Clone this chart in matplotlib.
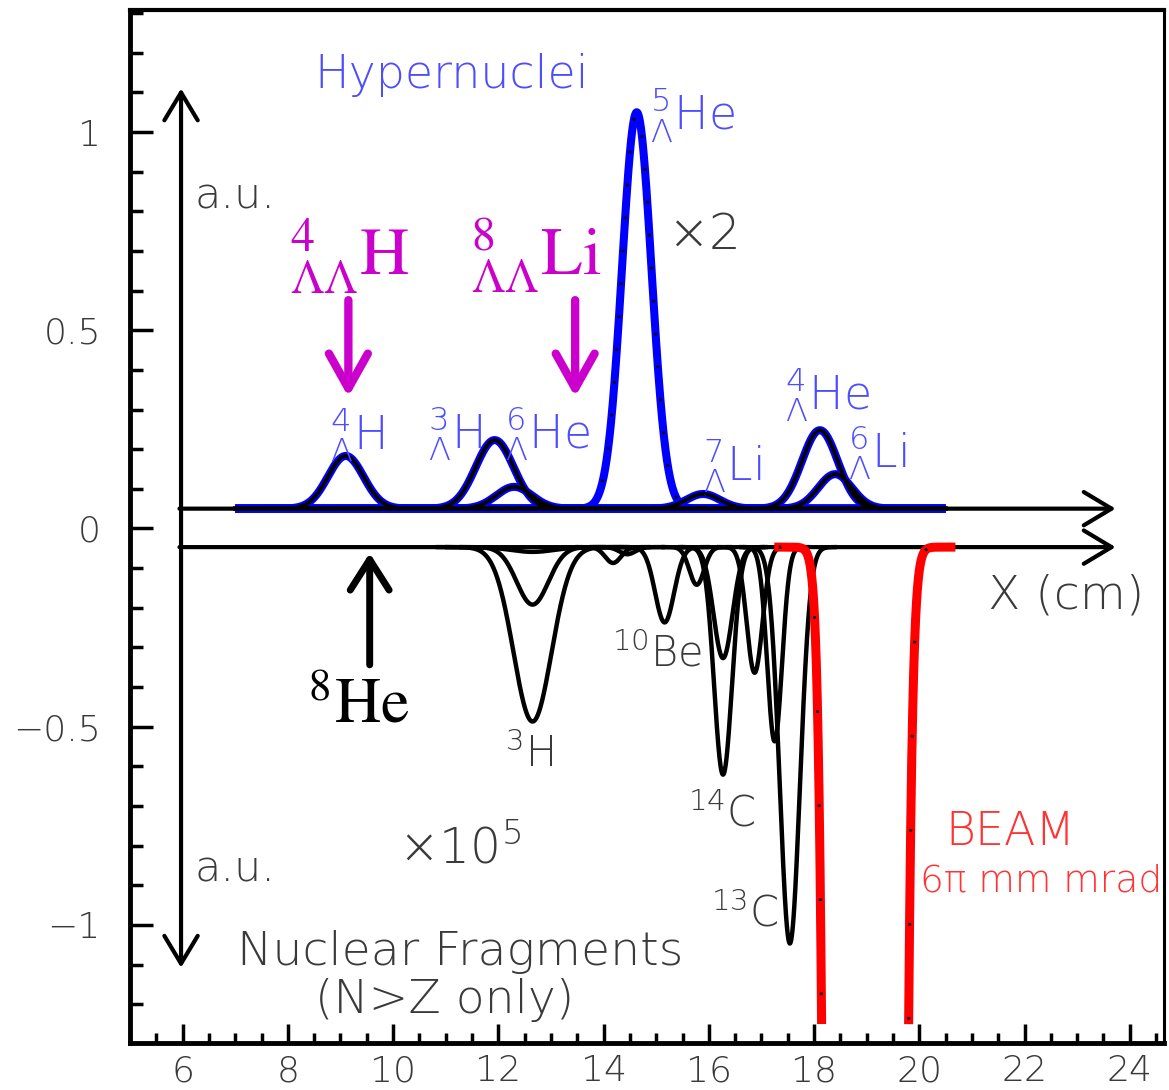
import numpy as np
import matplotlib
matplotlib.use("Agg")
import matplotlib.pyplot as plt
from matplotlib.ticker import MultipleLocator, FixedLocator, FixedFormatter

plt.rcParams["mathtext.fontset"] = "custom"
plt.rcParams["mathtext.rm"] = "DejaVu Sans:extralight"
plt.rcParams["mathtext.it"] = "DejaVu Sans:extralight"
plt.rcParams["mathtext.bf"] = "DejaVu Sans:extralight"

# ---- data ----
# upper panel: hypernuclei peaks (centre cm, height above base, sigma cm)
hyp_labels = [r"$^{4}_{\Lambda}$H", r"$^{3}_{\Lambda}$H", r"$^{6}_{\Lambda}$He", r"$^{5}_{\Lambda}$He",
              r"$^{7}_{\Lambda}$Li", r"$^{4}_{\Lambda}$He", r"$^{6}_{\Lambda}$Li"]
hyp_x = [9.10, 11.93, 12.30, 14.63, 15.89, 18.11, 18.40]
hyp_h = [0.133, 0.173, 0.055, 1.00, 0.037, 0.198, 0.087]
hyp_s = [0.34, 0.36, 0.34, 0.28, 0.32, 0.34, 0.32]
hyp_black = [True, True, True, False, True, True, True]
base_hi = 0.05

# lower panel: nuclear fragments (centre cm, depth below base, sigma cm)
frag_x = [12.65, 12.65, 12.65, 14.18, 14.45, 15.16, 15.77, 16.27, 16.27, 16.87, 17.25, 17.54]
frag_d = [0.44, 0.145, 0.012, 0.040, 0.018, 0.19, 0.095, 0.28, 0.574, 0.317, 0.49, 1.00]
frag_s = [0.36, 0.30, 0.40, 0.15, 0.15, 0.18, 0.14, 0.18, 0.17, 0.15, 0.14, 0.19]
base_lo = -0.047

# beam profile
beam_x0, beam_amp, beam_sig = 18.97, 286.0, 0.25
beam_range = (17.33, 20.6)
beam_floor = -1.24

blue = "#0000ff"
lblue = "#4d4dff"
gray = "#3a3a3a"
mag = "#cc00cc"
red = "#ff0000"
thin = dict(family="DejaVu Sans", fontweight=200)

def gauss(x, c, a, s):
    return a * np.exp(-0.5 * ((x - c) / s) ** 2)

fig = plt.figure(figsize=(11.69, 10.90), dpi=100)
ax = fig.add_axes([130 / 1169, 1 - 1043 / 1090, (1164 - 130) / 1169, (1043 - 10) / 1090])
ax.set_xlim(5.0, 24.65)
ax.set_ylim(-1.298, 1.308)

# axis arrows
ax.annotate("", xy=(5.97, 1.11), xytext=(5.97, -1.108),
            arrowprops=dict(arrowstyle="<->,head_length=20,head_width=12", lw=3, color="black",
                            shrinkA=0, shrinkB=0, mutation_scale=1))
for yb in (base_hi, base_lo):
    ax.annotate("", xy=(23.73, yb), xytext=(5.94, yb),
                arrowprops=dict(arrowstyle="->,head_length=20,head_width=12", lw=3, color="black",
                                shrinkA=0, shrinkB=0, mutation_scale=1))

# upper spectrum: every component blue, with black core and dots
xs = np.linspace(7.0, 20.5, 2000)
for c, a, s, b in zip(hyp_x, hyp_h, hyp_s, hyp_black):
    yy = base_hi + gauss(xs, c, a, s)
    ax.plot(xs, yy, color=blue, lw=5.8, solid_capstyle="butt", zorder=3)
for c, a, s, b in zip(hyp_x, hyp_h, hyp_s, hyp_black):
    yy = base_hi + gauss(xs, c, a, s)
    if b:
        ax.plot(xs, yy, color="black", lw=2.8, zorder=4)
    xx = np.linspace(c - 3.5 * s, c + 3.5 * s, 400)
    ax.plot(xx, base_hi + gauss(xx, c, a, s), color="black", lw=2.2,
            ls=(0, (0.8, 10)), zorder=5)

# lower spectrum
for c, d, s in zip(frag_x, frag_d, frag_s):
    xx = np.linspace(c - 4.5 * s, c + 4.5 * s, 400)
    ax.plot(xx, base_lo - gauss(xx, c, d, s), color="black", lw=3.2, zorder=4)

# beam
xb = np.linspace(beam_range[0], beam_range[1], 20000)
yb = base_lo - gauss(xb, beam_x0, beam_amp, beam_sig)
yb = np.where(yb < beam_floor, np.nan, yb)
ax.plot(xb, yb, color=red, lw=6.5, zorder=5)
ax.plot(xb, yb, color="black", lw=2.2, ls=(0, (0.8, 30)), zorder=6)

# hypernuclei labels
hyp_lab_x = [8.80, 10.66, 12.12, 14.88, 15.89, 17.44, 18.64]
hyp_lab_y = [0.200, 0.203, 0.203, 1.005, 0.122, 0.301, 0.153]
for t, x, y in zip(hyp_labels, hyp_lab_x, hyp_lab_y):
    ax.text(x, y, t, color=lblue, fontsize=33, ha="left", va="baseline", zorder=7, **thin)

# fragment labels
frag_labels = [r"$^{3}$H", r"$^{10}$Be", r"$^{14}$C", r"$^{13}$C"]
frag_lab_x = [12.12, 14.16, 15.60, 16.05]
frag_lab_y = [-0.601, -0.349, -0.753, -1.005]
for t, x, y in zip(frag_labels, frag_lab_x, frag_lab_y):
    ax.text(x, y, t, color=gray, fontsize=30, ha="left", va="baseline", zorder=7, **thin)

ax.text(8.51, 1.144, "Hypernuclei", color=lblue, fontsize=33, ha="left", va="center", **thin)
ax.text(6.23, 0.84, "a.u.", color=gray, fontsize=31, ha="left", va="center", **thin)
ax.text(6.23, -0.86, "a.u.", color=gray, fontsize=31, ha="left", va="center", **thin)
ax.text(15.22, 0.74, "×2", color=gray, fontsize=36, ha="left", va="center", **thin)
ax.text(10.09, -0.81, r"×10$^{5}$", color=gray, fontsize=35, ha="left", va="center", **thin)
ax.text(11.27, -1.068, "Nuclear Fragments", color=gray, fontsize=34, ha="center", va="center", **thin)
ax.text(10.98, -1.19, "(N>Z only)", color=gray, fontsize=34, ha="center", va="center", **thin)
ax.text(21.3, -0.168, "X (cm)", color=gray, fontsize=34, ha="left", va="center", **thin)
ax.text(20.49, -0.765, "BEAM", color="#ff3333", fontsize=33, ha="left", va="center", **thin)
ax.text(20.01, -0.89, "6π mm mrad", color="#ff3333", fontsize=27, ha="left", va="center", **thin)

# double-lambda candidates and 8He
ax.text(8.03, 0.639, r"$^{4}_{\Lambda\Lambda}\mathrm{H}$", color=mag, fontsize=49,
        math_fontfamily="stix", ha="left", va="baseline")
ax.text(11.46, 0.639, r"$^{8}_{\Lambda\Lambda}\mathrm{Li}$", color=mag, fontsize=49,
        math_fontfamily="stix", ha="left", va="baseline")
for xa in (9.15, 13.46):
    ax.annotate("", xy=(xa, 0.332), xytext=(xa, 0.576),
                arrowprops=dict(arrowstyle="->,head_length=25,head_width=14", lw=6, color=mag,
                                shrinkA=0, shrinkB=0, mutation_scale=1, capstyle="round",
                                joinstyle="round"))
ax.annotate("", xy=(9.555, -0.062), xytext=(9.555, -0.344),
            arrowprops=dict(arrowstyle="->,head_length=22,head_width=14", lw=5, color="black",
                            shrinkA=0, shrinkB=0, mutation_scale=1, joinstyle="round"))
ax.text(8.38, -0.49, r"$^{8}\mathrm{He}$", color="black", fontsize=46,
        math_fontfamily="stix", ha="left", va="baseline")

# frame and ticks
ax.spines["left"].set_linewidth(3.5)
ax.spines["bottom"].set_linewidth(3.5)
ax.spines["top"].set_linewidth(3)
ax.spines["right"].set_linewidth(2.2)
ax.xaxis.set_major_locator(MultipleLocator(2))
ax.xaxis.set_minor_locator(MultipleLocator(0.5))
ax.yaxis.set_major_locator(FixedLocator([-1, -0.5, 0, 0.5, 1]))
ax.yaxis.set_major_formatter(FixedFormatter(["\u22121", "\u22120.5", "0", "0.5", "1"]))
ax.yaxis.set_minor_locator(MultipleLocator(0.1))
ax.tick_params(which="both", direction="in", width=2.5, top=False, right=False,
               labelcolor=gray, labelsize=26)
ax.tick_params(axis="y", which="major", length=16.5, pad=21)
ax.tick_params(axis="y", which="minor", length=9.5)
ax.tick_params(axis="x", which="major", length=14, pad=8)
ax.tick_params(axis="x", which="minor", length=7)
for lab in ax.get_xticklabels() + ax.get_yticklabels():
    lab.set_fontweight(200)

fig.savefig("out.png", dpi=100)
